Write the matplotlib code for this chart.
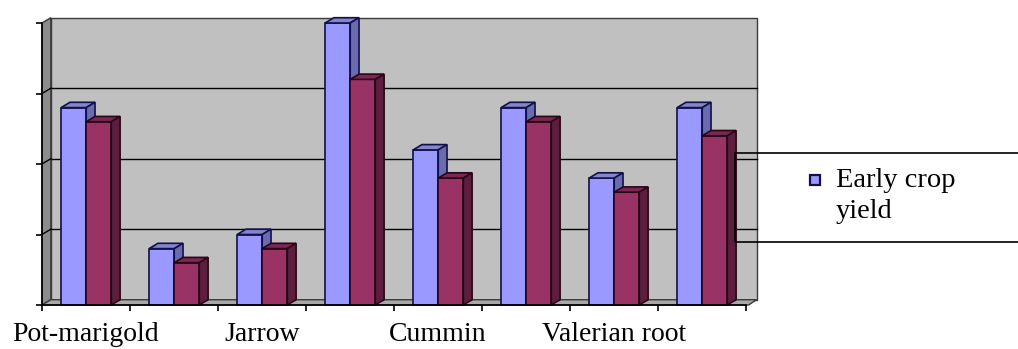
import matplotlib
matplotlib.use("Agg")
import matplotlib.pyplot as plt
from matplotlib.patches import Polygon, Rectangle
from matplotlib.lines import Line2D
from matplotlib.legend_handler import HandlerLine2D

# Data
categories = ["Pot-marigold", "", "Jarrow", "", "Cummin", "", "Valerian root", ""]
early_yield = [2.8, 0.8, 1.0, 4.0, 2.2, 2.8, 1.8, 2.8]
late_yield = [2.6, 0.6, 0.8, 3.2, 1.8, 2.6, 1.6, 2.4]
series_names = ["Early crop\nyield"]
y_max = 4

W, H = 1018, 349
fig = plt.figure(figsize=(W / 100, H / 100), dpi=100)
fig.patch.set_facecolor("white")
ax = fig.add_axes([42 / W, 44 / H, 704 / W, 282 / H])
ax.patch.set_visible(False)
n = len(categories)
ax.set_xlim(0, n)
ax.set_ylim(0, y_max)

serif = "Liberation Serif"
dx, dy = 0.1, 0.075  # depth offset of the 3D box in data units

# Walls and floor
wall_kw = dict(clip_on=False, linewidth=1.0)
ax.add_patch(Polygon([(dx, dy), (n + dx + 0.02, dy), (n + dx + 0.02, y_max + dy),
                      (dx, y_max + dy)], closed=True, facecolor="#c0c0c0",
                     edgecolor="#3a3a3a", zorder=0, **wall_kw))
ax.add_patch(Polygon([(0, 0), (dx, dy), (dx, y_max + dy), (0, y_max)], closed=True,
                     facecolor="#8c8c8c", edgecolor="#3a3a3a", zorder=1, **wall_kw))
ax.add_patch(Polygon([(0, 0), (n + 0.03, 0), (n + dx + 0.02, dy), (dx, dy)], closed=True,
                     facecolor="#a8a8a8", edgecolor="#3a3a3a", zorder=1, **wall_kw))
for g in range(1, y_max):
    ax.plot([dx, n + dx + 0.02], [g + dy, g + dy], color="black", lw=1.0, zorder=0.5,
            clip_on=False)
    ax.plot([0, dx], [g, g + dy], color="black", lw=1.0, zorder=1.5, clip_on=False)

# Bars with top and side faces
width = 0.285
offsets = [0.36, 0.645]
styles = [
    dict(front="#9999ff", top="#8585cc", side="#6b6bb0", edge="#10104a"),
    dict(front="#993366", top="#7a2852", side="#5c1e3e", edge="#2a0516"),
]
z = 2
for i in range(n):
    for s, vals in enumerate([early_yield, late_yield]):
        st = styles[s]
        h = vals[i]
        xc = i + offsets[s]
        ax.bar([xc], [h], width=width, color=st["front"], edgecolor=st["edge"],
               linewidth=1.2, zorder=z, clip_on=False)
        x0, x1 = xc - width / 2, xc + width / 2
        ax.add_patch(Polygon([(x0, h), (x1, h), (x1 + dx, h + dy), (x0 + dx, h + dy)],
                             closed=True, facecolor=st["top"], edgecolor=st["edge"],
                             linewidth=1.2, zorder=z + 0.1, clip_on=False))
        ax.add_patch(Polygon([(x1, 0), (x1 + dx, dy), (x1 + dx, h + dy), (x1, h)],
                             closed=True, facecolor=st["side"], edgecolor=st["edge"],
                             linewidth=1.2, zorder=z + 0.1, clip_on=False))
        z += 1

# Axes, ticks and labels
for side in ["top", "right"]:
    ax.spines[side].set_visible(False)
for side in ["left", "bottom"]:
    ax.spines[side].set_color("black")
    ax.spines[side].set_linewidth(1.2)
    ax.spines[side].set_zorder(z + 1)
ax.set_yticks(range(0, y_max + 1))
ax.set_yticklabels([])
ax.set_xticks(range(0, n + 1))
ax.set_xticklabels([])
ax.tick_params(axis="both", which="major", direction="out", length=4.5, width=1.2,
               color="black")
ax.set_xticks([i + 0.5 for i in range(n)], minor=True)
ax.set_xticklabels(categories, minor=True, fontfamily=serif, fontsize=20)
ax.tick_params(axis="x", which="minor", length=0, pad=12.5)


class RaisedMarkerHandler(HandlerLine2D):
    """Line2D legend handler that lifts the marker to the first text line."""

    def __init__(self, lift, **kw):
        super().__init__(**kw)
        self.lift = lift

    def create_artists(self, legend, orig_handle, xdescent, ydescent, width, height,
                       fontsize, trans):
        return super().create_artists(legend, orig_handle, xdescent,
                                      ydescent - 2 * self.lift, width, height,
                                      fontsize, trans)


# Legend
marker = Line2D([], [], linestyle="none", marker="s", markersize=7.5,
                markerfacecolor="#9999ff", markeredgecolor="#10104a",
                markeredgewidth=1.6)
leg = fig.legend([marker], series_names, loc="upper left",
                 bbox_to_anchor=(806 / W, 1 - 168 / H), frameon=False,
                 prop=dict(family=serif, size=20.5), handlelength=0.6,
                 handletextpad=0.45, borderpad=0, borderaxespad=0, labelspacing=0,
                 handler_map={marker: RaisedMarkerHandler(lift=11)})
for t in leg.get_texts():
    t.set_linespacing(1.3)
fig.add_artist(Rectangle((735 / W, 1 - 242 / H), (1040 - 735) / W, (242 - 153) / H,
                         transform=fig.transFigure, fill=False, edgecolor="black",
                         linewidth=1.2, zorder=z + 5))

fig.savefig("out.png", dpi=100)
